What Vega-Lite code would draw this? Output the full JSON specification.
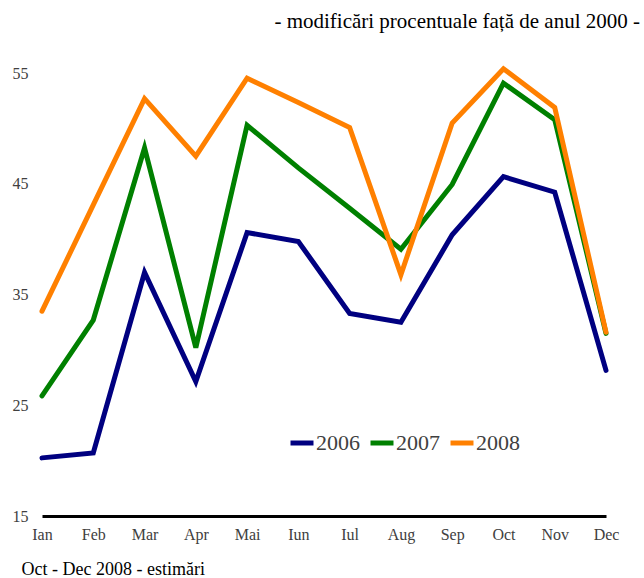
{
  "$schema": "https://vega.github.io/schema/vega-lite/v6.json",
  "autosize": "none",
  "width": 564,
  "height": 476,
  "padding": {"left": 42, "top": 40, "right": 38, "bottom": 62},
  "background": "white",
  "config": {
    "font": "Liberation Serif",
    "view": {"stroke": null}
  },
  "title": {
    "text": "- modificări procentuale față de anul 2000 -",
    "anchor": "end",
    "frame": "group",
    "dx": 34,
    "offset": 8,
    "fontSize": 21,
    "fontWeight": "normal",
    "color": "black",
    "font": "Liberation Serif"
  },
  "data": {
    "values": [
      {"m": "Ian", "s": "2006", "v": 20.25},
      {"m": "Feb", "s": "2006", "v": 20.7},
      {"m": "Mar", "s": "2006", "v": 37.0},
      {"m": "Apr", "s": "2006", "v": 27.15},
      {"m": "Mai", "s": "2006", "v": 40.6},
      {"m": "Iun", "s": "2006", "v": 39.8},
      {"m": "Iul", "s": "2006", "v": 33.3},
      {"m": "Aug", "s": "2006", "v": 32.5},
      {"m": "Sep", "s": "2006", "v": 40.4},
      {"m": "Oct", "s": "2006", "v": 45.65},
      {"m": "Nov", "s": "2006", "v": 44.25},
      {"m": "Dec", "s": "2006", "v": 28.15},
      {"m": "Ian", "s": "2007", "v": 25.85},
      {"m": "Feb", "s": "2007", "v": 32.7},
      {"m": "Mar", "s": "2007", "v": 48.25},
      {"m": "Apr", "s": "2007", "v": 30.2},
      {"m": "Mai", "s": "2007", "v": 50.3},
      {"m": "Iun", "s": "2007", "v": 46.45},
      {"m": "Iul", "s": "2007", "v": 42.8},
      {"m": "Aug", "s": "2007", "v": 39.1},
      {"m": "Sep", "s": "2007", "v": 44.95},
      {"m": "Oct", "s": "2007", "v": 54.1},
      {"m": "Nov", "s": "2007", "v": 50.8},
      {"m": "Dec", "s": "2007", "v": 31.5},
      {"m": "Ian", "s": "2008", "v": 33.5},
      {"m": "Feb", "s": "2008", "v": 43.1},
      {"m": "Mar", "s": "2008", "v": 52.7},
      {"m": "Apr", "s": "2008", "v": 47.5},
      {"m": "Mai", "s": "2008", "v": 54.55},
      {"m": "Iun", "s": "2008", "v": 52.35},
      {"m": "Iul", "s": "2008", "v": 50.1},
      {"m": "Aug", "s": "2008", "v": 36.8},
      {"m": "Sep", "s": "2008", "v": 50.5},
      {"m": "Oct", "s": "2008", "v": 55.4},
      {"m": "Nov", "s": "2008", "v": 51.9},
      {"m": "Dec", "s": "2008", "v": 31.6}
    ]
  },
  "mark": {"type": "line", "strokeWidth": 5, "strokeCap": "round", "strokeJoin": "miter", "clip": false},
  "encoding": {
    "x": {
      "field": "m",
      "type": "ordinal",
      "sort": ["Ian", "Feb", "Mar", "Apr", "Mai", "Iun", "Iul", "Aug", "Sep", "Oct", "Nov", "Dec"],
      "scale": {"type": "point", "padding": 0},
      "axis": {
        "title": "Oct - Dec 2008 - estimări",
        "titleFont": "Liberation Serif",
        "titleFontSize": 18,
        "titleFontWeight": "normal",
        "titleColor": "black",
        "titleAnchor": "start",
        "titleAlign": "left",
        "titleBaseline": "middle",
        "titleX": -21,
        "titleY": 53,
        "labelFont": "Liberation Serif",
        "labelAngle": 0,
        "labelFontSize": 16,
        "labelColor": "#404040",
        "labelPadding": 10,
        "ticks": false,
        "domainColor": "black",
        "domainWidth": 3,
        "grid": false
      }
    },
    "y": {
      "field": "v",
      "type": "quantitative",
      "scale": {"domain": [15, 58], "nice": false, "zero": false},
      "axis": {
        "title": null,
        "values": [15, 25, 35, 45, 55],
        "labelFont": "Liberation Serif",
        "labelFontSize": 16,
        "labelColor": "#404040",
        "labelPadding": 14,
        "ticks": false,
        "domain": false,
        "grid": false
      }
    },
    "color": {
      "field": "s",
      "type": "nominal",
      "scale": {"domain": ["2006", "2007", "2008"], "range": ["#000080", "#008000", "#FF8000"]},
      "legend": {
        "title": null,
        "orient": "none",
        "legendX": 246,
        "legendY": 389,
        "direction": "horizontal",
        "symbolType": "stroke",
        "symbolSize": 529,
        "symbolStrokeWidth": 5,
        "labelFont": "Liberation Serif",
        "labelFontSize": 22,
        "labelColor": "#404040",
        "labelOffset": 0,
        "columnPadding": 0
      }
    },
    "order": {"field": "s", "sort": "descending"}
  }
}
